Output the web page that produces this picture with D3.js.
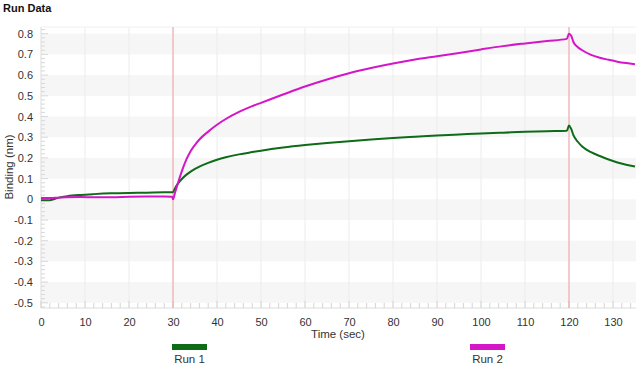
<!DOCTYPE html>
<html><head><meta charset="utf-8">
<script src="https://cdn.jsdelivr.net/npm/d3@7"></script>
<style>html,body{margin:0;padding:0;background:#fff;}svg{display:block;font-family:"Liberation Sans",Arial,sans-serif;}</style>
</head><body>
<svg id="c" width="640" height="368"></svg>
<script>
const title = "Run Data";
const xLabel = "Time (sec)";
const yLabel = "Binding (nm)";
const seriesNames = ["Run 1", "Run 2"];
const seriesColors = ["#0e6b17", "#d416c8"];
const markerTimes = [30, 120];
const xTicks = [0,10,20,30,40,50,60,70,80,90,100,110,120,130];
const yTicks = [0.8,0.7,0.6,0.5,0.4,0.3,0.2,0.1,0,-0.1,-0.2,-0.3,-0.4,-0.5];
const yTickLabels = ["0.8","0.7","0.6","0.5","0.4","0.3","0.2","0.1","0","-0.1","-0.2","-0.3","-0.4","-0.5"];
const times = [0,2,4,6,9,12,16,20,24,28,29.8,30,30.5,31,32,33,34,35,36,38,40,42,45,48,50,55,60,65,70,75,80,85,90,95,100,105,110,115,119.5,120,120.5,121,122,123,125,127,129,131,133,135];
const run1 = [-0.005,-0.004,0.008,0.015,0.021,0.025,0.029,0.031,0.032,0.034,0.034,0.035,0.055,0.072,0.098,0.118,0.134,0.147,0.158,0.176,0.191,0.203,0.217,0.228,0.235,0.25,0.262,0.272,0.281,0.289,0.296,0.302,0.308,0.313,0.318,0.322,0.326,0.329,0.331,0.356,0.34,0.31,0.278,0.255,0.228,0.209,0.192,0.178,0.167,0.158];
const run2 = [0.006,0.006,0.008,0.01,0.011,0.01,0.01,0.012,0.013,0.013,0.012,0.0,0.035,0.07,0.135,0.19,0.232,0.263,0.289,0.327,0.36,0.388,0.422,0.45,0.466,0.506,0.545,0.579,0.609,0.634,0.656,0.675,0.691,0.707,0.724,0.74,0.753,0.765,0.775,0.80,0.79,0.76,0.735,0.72,0.698,0.684,0.674,0.665,0.658,0.652];

const svg = d3.select("#c");
const plotTop = 27, plotBottom = 308, plotLeft = 41, plotRight = 636;
const x = d3.scaleLinear().domain([0,135]).range([41,635]);
const y = d3.scaleLinear().domain([-0.5,0.8]).range([302.8,33.7]);

// background bands
const bands = [[0.7,0.8],[0.5,0.6],[0.3,0.4],[0.1,0.2],[-0.1,0],[-0.3,-0.2],[-0.5,-0.4]];
svg.append("rect").attr("x",plotLeft).attr("y",plotTop).attr("width",plotRight-plotLeft).attr("height",plotBottom-plotTop).attr("fill","#fff");
svg.selectAll(".band").data(bands).enter().append("rect")
  .attr("x",plotLeft).attr("width",plotRight-plotLeft)
  .attr("y",d=>y(d[1])).attr("height",d=>y(d[0])-y(d[1])).attr("fill","#f6f6f6");
// vertical grid
svg.selectAll(".vg").data(xTicks.filter(d=>d>0)).enter().append("line")
  .attr("x1",d=>x(d)).attr("x2",d=>x(d)).attr("y1",plotTop).attr("y2",plotBottom)
  .attr("stroke","#ececec").attr("stroke-width",1);
// frame
svg.append("line").attr("x1",plotLeft).attr("x2",plotLeft).attr("y1",plotTop).attr("y2",plotBottom).attr("stroke","#dcdcdc");
svg.append("line").attr("x1",plotLeft).attr("x2",plotRight).attr("y1",plotBottom).attr("y2",plotBottom).attr("stroke","#dcdcdc");
svg.append("line").attr("x1",plotLeft).attr("x2",plotRight).attr("y1",plotTop).attr("y2",plotTop).attr("stroke","#f0f0f0");

// minor ticks x (every 2 s, upward)
const xMinor = d3.range(0,136,2);
svg.selectAll(".xm").data(xMinor).enter().append("line")
  .attr("x1",d=>x(d)).attr("x2",d=>x(d)).attr("y1",plotBottom).attr("y2",d=>plotBottom-(d%10===0?7:5))
  .attr("stroke","#d4d4d4");
// minor ticks y
const yMinor = d3.range(-26,42).map(d=>d/50);
svg.selectAll(".ym").data(yMinor).enter().append("line")
  .attr("x1",plotLeft).attr("x2",d=>plotLeft+(Math.abs(Math.round(d*50))%5===0?7:4))
  .attr("y1",d=>y(d)).attr("y2",d=>y(d)).attr("stroke","#d8d8d8");

const xAxis = d3.axisBottom(x).tickValues(xTicks).tickSize(0).tickPadding(10);
const gx = svg.append("g").attr("transform",`translate(0,${plotBottom})`).call(xAxis);
gx.select(".domain").remove();
gx.selectAll("text").attr("font-size",11).attr("fill","#333").attr("font-family","Liberation Sans, Arial, sans-serif");
const yAxis = d3.axisLeft(y).tickValues(yTicks).tickFormat((d,i)=>yTickLabels[i]).tickSize(0).tickPadding(8);
const gy = svg.append("g").attr("transform",`translate(${plotLeft},0)`).call(yAxis);
gy.select(".domain").remove();
gy.selectAll("text").attr("font-size",11).attr("fill","#333").attr("font-family","Liberation Sans, Arial, sans-serif");

// marker lines
svg.selectAll(".mk").data(markerTimes).enter().append("line")
  .attr("x1",d=>x(d)).attr("x2",d=>x(d)).attr("y1",plotTop).attr("y2",plotBottom)
  .attr("stroke","#f2a0a0").attr("stroke-width",1);

// lines
const line = d3.line().x(d=>x(d[0])).y(d=>y(d[1])).curve(d3.curveMonotoneX);
[run1, run2].forEach((vals,i)=>{
  const pts = times.map((t,j)=>[t, vals[j]]);
  svg.append("path").datum(pts).attr("d",line).attr("fill","none")
    .attr("stroke",seriesColors[i]).attr("stroke-width",2).attr("stroke-linejoin","round");
});

// titles
svg.append("text").attr("x",3).attr("y",12).attr("font-size",11).attr("font-weight","bold").attr("fill","#111").text(title);
svg.append("text").attr("transform","translate(13,167) rotate(-90)").attr("text-anchor","middle").attr("font-size",11.5).attr("fill","#333").text(yLabel);
svg.append("text").attr("x",338).attr("y",338).attr("text-anchor","middle").attr("font-size",11.5).attr("fill","#333").text(xLabel);

// legend
const legX = [189.5, 487.5];
seriesNames.forEach((n,i)=>{
  svg.append("rect").attr("x",legX[i]-17.5).attr("y",344).attr("width",35).attr("height",6).attr("fill",seriesColors[i]);
  svg.append("text").attr("x",legX[i]).attr("y",363).attr("text-anchor","middle").attr("font-size",11.5).attr("fill","#333").text(n);
});
</script>
</body></html>
